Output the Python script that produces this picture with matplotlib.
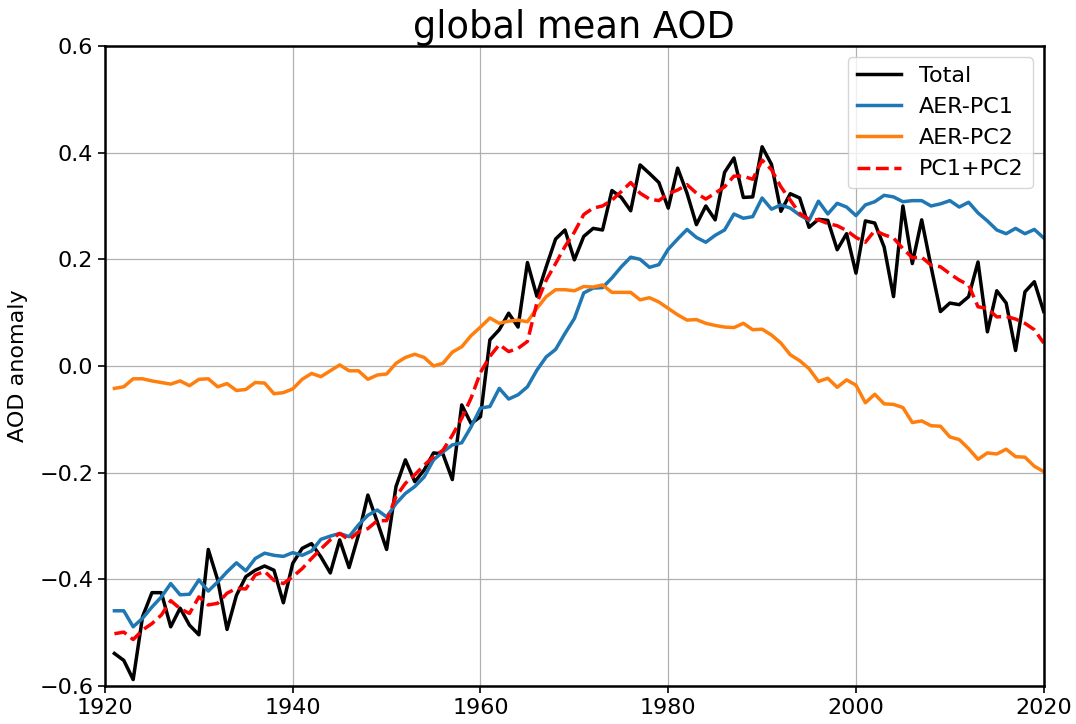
import numpy as np
import matplotlib
matplotlib.use("Agg")
import matplotlib.pyplot as plt

years = list(range(1921, 2021))

total = [-0.539, -0.552, -0.588, -0.470, -0.425, -0.425, -0.489, -0.454, -0.486, -0.504,
         -0.344, -0.401, -0.494, -0.430, -0.395, -0.383, -0.375, -0.383, -0.444, -0.370,
         -0.342, -0.333, -0.358, -0.388, -0.326, -0.378, -0.317, -0.242, -0.292, -0.344,
         -0.226, -0.176, -0.217, -0.195, -0.163, -0.165, -0.213, -0.073, -0.108, -0.095,
         0.049, 0.068, 0.099, 0.073, 0.194, 0.131, 0.186, 0.238, 0.255, 0.199,
         0.243, 0.258, 0.255, 0.329, 0.316, 0.291, 0.377, 0.361, 0.344, 0.296,
         0.371, 0.324, 0.265, 0.300, 0.274, 0.363, 0.390, 0.316, 0.317, 0.411,
         0.378, 0.290, 0.323, 0.315, 0.260, 0.275, 0.273, 0.218, 0.248, 0.174,
         0.272, 0.268, 0.223, 0.130, 0.300, 0.192, 0.274, 0.186, 0.102, 0.118,
         0.115, 0.130, 0.195, 0.064, 0.141, 0.118, 0.029, 0.139, 0.158, 0.102]

aer_pc1 = [-0.459, -0.459, -0.489, -0.473, -0.452, -0.433, -0.408, -0.429, -0.428, -0.401,
           -0.422, -0.405, -0.386, -0.369, -0.384, -0.361, -0.351, -0.355, -0.357, -0.350,
           -0.355, -0.347, -0.325, -0.319, -0.314, -0.320, -0.298, -0.280, -0.270, -0.283,
           -0.258, -0.239, -0.226, -0.208, -0.176, -0.161, -0.148, -0.144, -0.114, -0.079,
           -0.076, -0.042, -0.062, -0.054, -0.039, -0.008, 0.017, 0.031, 0.061, 0.089,
           0.137, 0.146, 0.147, 0.165, 0.186, 0.204, 0.200, 0.185, 0.190, 0.219,
           0.238, 0.256, 0.241, 0.232, 0.245, 0.255, 0.285, 0.277, 0.280, 0.315,
           0.294, 0.302, 0.296, 0.283, 0.273, 0.309, 0.285, 0.305, 0.298, 0.282,
           0.302, 0.308, 0.320, 0.317, 0.308, 0.310, 0.310, 0.300, 0.304, 0.310,
           0.298, 0.307, 0.287, 0.272, 0.255, 0.248, 0.258, 0.248, 0.256, 0.240]

aer_pc2 = [-0.042, -0.039, -0.024, -0.024, -0.028, -0.031, -0.034, -0.028, -0.037, -0.025,
           -0.024, -0.039, -0.033, -0.046, -0.044, -0.031, -0.032, -0.052, -0.050, -0.043,
           -0.025, -0.014, -0.020, -0.009, 0.002, -0.009, -0.009, -0.025, -0.017, -0.015,
           0.005, 0.016, 0.022, 0.016, 0.000, 0.005, 0.026, 0.036, 0.057, 0.073,
           0.090, 0.080, 0.084, 0.086, 0.083, 0.108, 0.130, 0.143, 0.143, 0.141,
           0.149, 0.148, 0.152, 0.138, 0.138, 0.138, 0.124, 0.128, 0.120, 0.108,
           0.096, 0.086, 0.087, 0.080, 0.076, 0.073, 0.072, 0.080, 0.068, 0.069,
           0.058, 0.043, 0.021, 0.010, -0.005, -0.029, -0.023, -0.040, -0.026, -0.036,
           -0.069, -0.053, -0.071, -0.072, -0.078, -0.106, -0.103, -0.112, -0.113, -0.133,
           -0.138, -0.155, -0.175, -0.163, -0.165, -0.156, -0.170, -0.171, -0.188, -0.198]

pc1_pc2 = [-0.502, -0.499, -0.513, -0.495, -0.483, -0.467, -0.440, -0.455, -0.464, -0.433,
           -0.448, -0.445, -0.426, -0.417, -0.418, -0.392, -0.385, -0.402, -0.408, -0.395,
           -0.380, -0.361, -0.343, -0.326, -0.314, -0.326, -0.311, -0.305, -0.290, -0.290,
           -0.245, -0.220, -0.204, -0.186, -0.170, -0.158, -0.130, -0.098, -0.060, -0.012,
           0.018, 0.040, 0.027, 0.033, 0.046, 0.118, 0.161, 0.192, 0.224, 0.251,
           0.284, 0.296, 0.300, 0.311, 0.327, 0.344, 0.324, 0.313, 0.310, 0.323,
           0.330, 0.340, 0.324, 0.313, 0.324, 0.336, 0.356, 0.356, 0.350, 0.386,
           0.368, 0.336, 0.311, 0.286, 0.275, 0.274, 0.267, 0.263, 0.254, 0.241,
           0.232, 0.254, 0.246, 0.240, 0.220, 0.203, 0.204, 0.189, 0.186, 0.173,
           0.161, 0.152, 0.111, 0.108, 0.092, 0.093, 0.088, 0.080, 0.068, 0.043]

xticks = [1920, 1940, 1960, 1980, 2000, 2020]
yticks = [-0.6, -0.4, -0.2, 0.0, 0.2, 0.4, 0.6]

fig = plt.figure(figsize=(10.76, 7.24), dpi=100)
ax = fig.add_axes([0.0976, 0.0525, 0.8724, 0.884])

ax.plot(years, total, color="black", lw=2.5, label="Total")
ax.plot(years, aer_pc1, color="#1f77b4", lw=2.5, label="AER-PC1")
ax.plot(years, aer_pc2, color="#ff7f0e", lw=2.5, label="AER-PC2")
ax.plot(years, pc1_pc2, color="red", lw=2.5, ls="--", label="PC1+PC2")

ax.set_xlim(1920, 2020)
ax.set_ylim(-0.6, 0.6)
ax.set_xticks(xticks)
ax.set_yticks(yticks)
ax.grid(True, color="#b0b0b0", lw=0.9)
ax.set_axisbelow(True)
ax.tick_params(labelsize=16, width=1.2, length=5)
for s in ax.spines.values():
    s.set_linewidth(1.8)
ax.set_ylabel("AOD anomaly", fontsize=16, labelpad=8)
ax.set_title("global mean AOD", fontsize=26.5, pad=6)
ax.legend(loc="upper right", fontsize=16, handlelength=2.0)

fig.savefig("out.png", dpi=100)
